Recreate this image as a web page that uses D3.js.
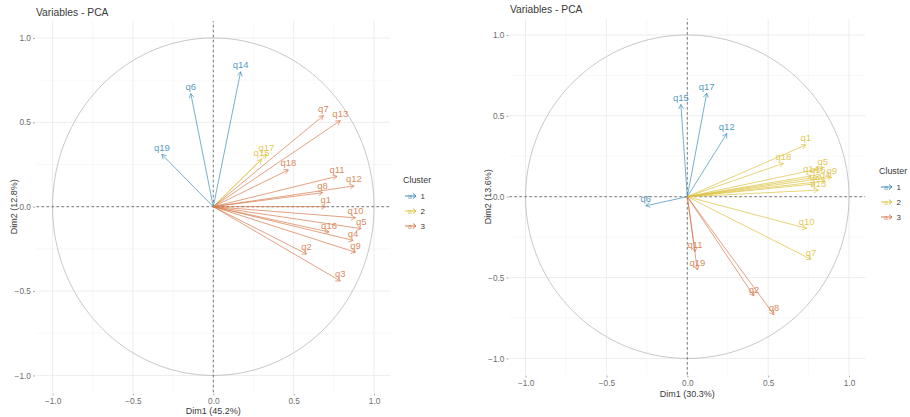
<!DOCTYPE html>
<html>
<head>
<meta charset="utf-8">
<script src="https://cdn.jsdelivr.net/npm/d3@7"></script>
<style>
  html, body { margin: 0; padding: 0; background: #fff; }
  svg { display: block; font-family: "Liberation Sans", Arial, sans-serif; }
</style>
</head>
<body>
<svg id="chart" width="910" height="417"></svg>
<script>
// ---- Data: PCA variable loadings (left analysis) ----
const leftVars    = ["q6", "q14", "q19", "q15", "q17", "q1", "q2", "q3", "q4", "q5", "q7", "q8", "q9", "q10", "q11", "q12", "q13", "q16", "q18"];
const leftDim1    = [-0.14, 0.17, -0.32, 0.30, 0.33, 0.70, 0.58, 0.79, 0.87, 0.92, 0.685, 0.68, 0.885, 0.885, 0.77, 0.875, 0.79, 0.72, 0.467];
const leftDim2    = [0.67, 0.80, 0.31, 0.28, 0.31, 0.00, -0.28, -0.44, -0.20, -0.13, 0.54, 0.083, -0.27, -0.066, 0.18, 0.123, 0.51, -0.15, 0.218];
const leftCluster = ["1", "1", "1", "2", "2", "3", "3", "3", "3", "3", "3", "3", "3", "3", "3", "3", "3", "3", "3"];
const leftTitles  = ["Dim1 (45.2%)", "Dim2 (12.8%)"];

// ---- Data: PCA variable loadings (right analysis) ----
const rightVars    = ["q6", "q12", "q15", "q17", "q1", "q18", "q5", "q9", "q14", "q16", "q4", "q3", "q13", "q10", "q7", "q2", "q8", "q11", "q19"];
const rightDim1    = [-0.257, 0.244, -0.04, 0.12, 0.733, 0.594, 0.838, 0.893, 0.765, 0.808, 0.851, 0.789, 0.81, 0.738, 0.765, 0.412, 0.536, 0.048, 0.062];
const rightDim2    = [-0.056, 0.39, 0.57, 0.64, 0.32, 0.206, 0.177, 0.12, 0.128, 0.122, 0.097, 0.079, 0.041, -0.196, -0.387, -0.614, -0.73, -0.34, -0.453];
const rightCluster = ["1", "1", "1", "1", "2", "2", "2", "2", "2", "2", "2", "2", "2", "2", "2", "3", "3", "3", "3"];
const rightTitles  = ["Dim1 (30.3%)", "Dim2 (13.6%)"];

// ---- Shared axis / legend settings ----
const chartTitle   = "Variables - PCA";
const majorTicks   = [-1.0, -0.5, 0.0, 0.5, 1.0];
const minorTicks   = [-0.75, -0.25, 0.25, 0.75];
const clusterNames = ["1", "2", "3"];
const clusterColors = ["#3e8cb8", "#dcc23e", "#d77a4a"];

const svg = d3.select("#chart");
const color = d3.scaleOrdinal().domain(clusterNames).range(clusterColors);
const fmt = d3.format(".1f");

function drawPanel(cfg) {
  const { vars, dim1, dim2, cluster, titles, xr, yr, legend, titlePos, xLabY, yLabX, xTitleY, yTitleX } = cfg;
  const x = d3.scaleLinear().domain([-1.1, 1.1]).range(xr);
  const y = d3.scaleLinear().domain([-1.1, 1.1]).range(yr);
  const g = svg.append("g");

  // grid
  const grid = g.append("g");
  minorTicks.forEach(t => {
    grid.append("line").attr("x1", x(t)).attr("x2", x(t)).attr("y1", yr[0]).attr("y2", yr[1])
      .attr("stroke", "#f4f4f4").attr("stroke-width", 0.6);
    grid.append("line").attr("y1", y(t)).attr("y2", y(t)).attr("x1", xr[0]).attr("x2", xr[1])
      .attr("stroke", "#f4f4f4").attr("stroke-width", 0.6);
  });
  majorTicks.forEach(t => {
    grid.append("line").attr("x1", x(t)).attr("x2", x(t)).attr("y1", yr[0]).attr("y2", yr[1])
      .attr("stroke", "#e9e9e9").attr("stroke-width", 0.8);
    grid.append("line").attr("y1", y(t)).attr("y2", y(t)).attr("x1", xr[0]).attr("x2", xr[1])
      .attr("stroke", "#e9e9e9").attr("stroke-width", 0.8);
  });

  // correlation circle
  const circ = d3.range(0, 361, 2).map(a => [Math.cos(a * Math.PI / 180), Math.sin(a * Math.PI / 180)]);
  g.append("path")
    .attr("d", d3.line().x(d => x(d[0])).y(d => y(d[1]))(circ))
    .attr("fill", "none").attr("stroke", "#b0b0b0").attr("stroke-width", 0.7);

  // dashed reference axes
  g.append("line").attr("x1", x(0)).attr("x2", x(0)).attr("y1", yr[0]).attr("y2", yr[1])
    .attr("stroke", "#6a6a6a").attr("stroke-width", 0.9).attr("stroke-dasharray", "2.5,2.5");
  g.append("line").attr("y1", y(0)).attr("y2", y(0)).attr("x1", xr[0]).attr("x2", xr[1])
    .attr("stroke", "#6a6a6a").attr("stroke-width", 0.9).attr("stroke-dasharray", "2.5,2.5");

  // axes (tick labels + tiny ticks)
  const xAxis = d3.axisBottom(x).tickValues(majorTicks).tickFormat(fmt).tickSize(2).tickPadding(3);
  const yAxis = d3.axisLeft(y).tickValues(majorTicks).tickFormat(fmt).tickSize(2).tickPadding(2);
  const gx = g.append("g").attr("transform", `translate(0,${xLabY})`).call(xAxis);
  const gy = g.append("g").attr("transform", `translate(${yLabX},0)`).call(yAxis);
  [gx, gy].forEach(a => {
    a.select(".domain").remove();
    a.selectAll(".tick line").attr("stroke", "#8a8a8a").attr("stroke-width", 0.7);
    a.selectAll(".tick text").attr("fill", "#6e6e6e").style("font-size", "8.3px")
      .style("font-family", "'Liberation Sans', Arial, sans-serif");
  });

  // axis titles
  g.append("text").attr("x", x(0)).attr("y", xTitleY).attr("text-anchor", "middle")
    .attr("fill", "#3a3a3a").style("font-size", "9px").text(titles[0]);
  g.append("text").attr("transform", `translate(${yTitleX},${y(0)}) rotate(-90)`).attr("text-anchor", "middle")
    .attr("fill", "#3a3a3a").style("font-size", "9px").text(titles[1]);

  // chart title
  g.append("text").attr("x", titlePos[0]).attr("y", titlePos[1]).attr("fill", "#3a3a3a")
    .style("font-size", "10.3px").text(chartTitle);

  // arrows
  const rows = vars.map((v, i) => ({ name: v, d1: dim1[i], d2: dim2[i], c: cluster[i] }));
  const head = 5, ang = Math.PI / 6;
  const arr = g.append("g");
  rows.forEach(r => {
    const x0 = x(0), y0 = y(0), x1 = x(r.d1), y1 = y(r.d2);
    const th = Math.atan2(y1 - y0, x1 - x0);
    const p = d3.path();
    p.moveTo(x0, y0); p.lineTo(x1, y1);
    p.moveTo(x1 - head * Math.cos(th - ang), y1 - head * Math.sin(th - ang));
    p.lineTo(x1, y1);
    p.lineTo(x1 - head * Math.cos(th + ang), y1 - head * Math.sin(th + ang));
    arr.append("path").attr("d", p.toString()).attr("fill", "none")
      .attr("stroke", color(r.c)).attr("stroke-width", 0.7);
  });
  // variable labels above arrow tips
  const lab = g.append("g");
  rows.forEach(r => {
    lab.append("text").attr("x", x(r.d1)).attr("y", y(r.d2) - 3.5).attr("text-anchor", "middle")
      .attr("fill", color(r.c)).attr("fill-opacity", 0.9).style("font-size", "9.5px").text(r.name);
  });

  // legend
  const lg = g.append("g").attr("transform", `translate(${legend[0]},${legend[1]})`);
  lg.append("text").attr("x", 0).attr("y", 3).attr("fill", "#3a3a3a").style("font-size", "8.9px").text("Cluster");
  clusterNames.forEach((c, i) => {
    const yy = 16 + i * 15;
    const col = color(c);
    lg.append("text").attr("x", 7).attr("y", yy + 3).attr("text-anchor", "middle")
      .attr("fill", col).attr("fill-opacity", 0.8).style("font-size", "7px").text("a");
    lg.append("path").attr("d", `M2,${yy}L13,${yy}M10,${yy - 2.5}L13,${yy}L10,${yy + 2.5}`)
      .attr("fill", "none").attr("stroke", col).attr("stroke-width", 1);
    lg.append("text").attr("x", 17.5).attr("y", yy + 3).attr("fill", "#3a3a3a").style("font-size", "8px").text(c);
  });
}

drawPanel({
  vars: leftVars, dim1: leftDim1, dim2: leftDim2, cluster: leftCluster, titles: leftTitles,
  xr: [36.5, 390.1], yr: [392.3, 21.1],
  legend: [403, 180], titlePos: [36, 15.5],
  xLabY: 393.5, yLabX: 35, xTitleY: 413.5, yTitleX: 17
});

drawPanel({
  vars: rightVars, dim1: rightDim1, dim2: rightDim2, cluster: rightCluster, titles: rightTitles,
  xr: [509.4, 865.2], yr: [374.6, 18.8],
  legend: [879, 171], titlePos: [510, 13],
  xLabY: 375.5, yLabX: 508.5, xTitleY: 396.5, yTitleX: 491
});
</script>
</body>
</html>
